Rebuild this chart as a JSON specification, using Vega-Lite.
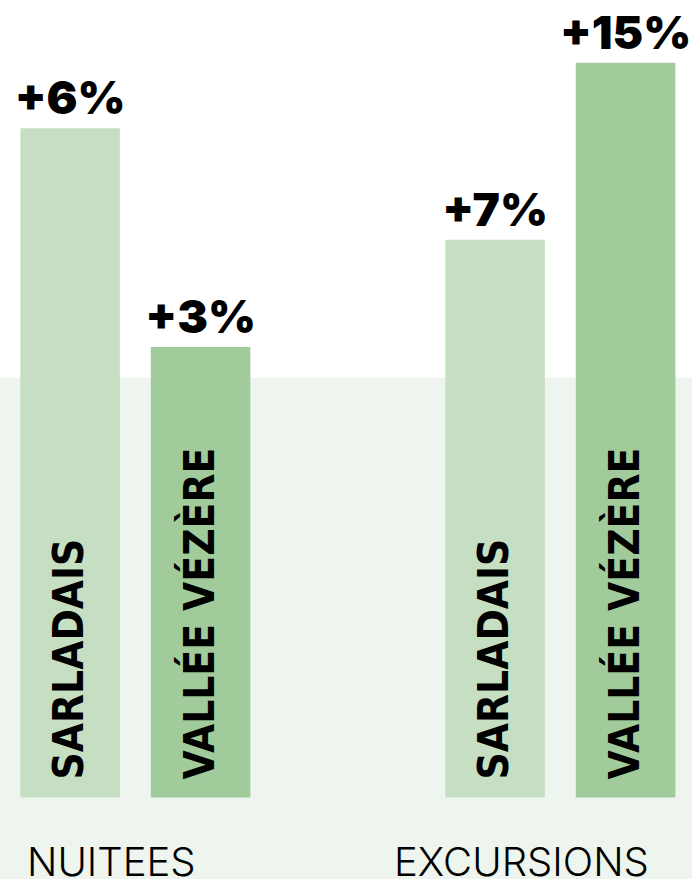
{
  "$schema": "https://vega.github.io/schema/vega-lite/v6.json",
  "width": 692,
  "height": 884,
  "autosize": {"type": "fit", "contains": "padding"},
  "padding": 0,
  "background": "#ffffff",
  "config": {"view": {"stroke": null}},
  "datasets": {
    "barres": [
      {"indicateur": "NUITEES", "zone": "SARLADAIS", "variation": "+6%", "hauteur": 673},
      {"indicateur": "NUITEES", "zone": "VALLÉE VÉZÈRE", "variation": "+3%", "hauteur": 453},
      {"indicateur": "EXCURSIONS", "zone": "SARLADAIS", "variation": "+7%", "hauteur": 561},
      {"indicateur": "EXCURSIONS", "zone": "VALLÉE VÉZÈRE", "variation": "+15%", "hauteur": 739}
    ],
    "fond": [{"bas": -82, "haut": 422}]
  },
  "encoding": {
    "x": {
      "field": "indicateur", "type": "nominal", "sort": ["NUITEES", "EXCURSIONS"],
      "scale": {"type": "band", "paddingInner": 0.4588, "paddingOuter": 0.0435, "align": 0.55},
      "axis": null
    }
  },
  "layer": [
    {
      "data": {"name": "fond"},
      "mark": {"type": "rect", "color": "#eef4ee"},
      "encoding": {
        "x": null,
        "y": {"field": "bas", "type": "quantitative", "scale": {"domain": [-82, 802], "nice": false, "zero": false}, "axis": null},
        "y2": {"field": "haut"}
      }
    },
    {
      "data": {"name": "barres"},
      "mark": {"type": "bar"},
      "encoding": {
        "xOffset": {"field": "zone", "type": "nominal", "sort": ["SARLADAIS", "VALLÉE VÉZÈRE"], "scale": {"type": "band", "paddingInner": 0.237, "paddingOuter": 0}},
        "y": {"field": "hauteur", "type": "quantitative", "scale": {"domain": [-82, 802], "nice": false, "zero": false}, "axis": null},
        "y2": {"datum": 0},
        "color": {"field": "zone", "type": "nominal", "scale": {"domain": ["SARLADAIS", "VALLÉE VÉZÈRE"], "range": ["#c6dfc3", "#a2cb9b"]}, "legend": null}
      }
    },
    {
      "data": {"name": "barres"},
      "mark": {"type": "text", "font": "Inter", "fontWeight": 900, "fontSize": 46, "baseline": "alphabetic", "align": "center", "dy": -14, "color": "#000000"},
      "encoding": {
        "xOffset": {"field": "zone", "type": "nominal", "sort": ["SARLADAIS", "VALLÉE VÉZÈRE"], "scale": {"type": "band", "paddingInner": 0.237, "paddingOuter": 0}},
        "y": {"field": "hauteur", "type": "quantitative", "scale": {"domain": [-82, 802], "nice": false, "zero": false}, "axis": null},
        "text": {"field": "variation"}
      }
    },
    {
      "data": {"name": "barres"},
      "mark": {"type": "text", "font": "DejaVu Sans Condensed", "fontWeight": "bold", "fontSize": 42, "angle": 270, "baseline": "middle", "align": "left", "dx": 18, "color": "#000000"},
      "encoding": {
        "xOffset": {"field": "zone", "type": "nominal", "sort": ["SARLADAIS", "VALLÉE VÉZÈRE"], "scale": {"type": "band", "paddingInner": 0.237, "paddingOuter": 0}},
        "y": {"datum": 0, "type": "quantitative", "scale": {"domain": [-82, 802], "nice": false, "zero": false}, "axis": null},
        "text": {"field": "zone"}
      }
    },
    {
      "data": {"name": "barres"},
      "transform": [{"filter": "datum.indicateur === 'NUITEES' && datum.zone === 'SARLADAIS'"}],
      "mark": {"type": "text", "font": "Inter", "fontWeight": 300, "fontSize": 40, "baseline": "middle", "align": "center", "dx": -24, "color": "#000000"},
      "encoding": {
        "y": {"datum": -67, "type": "quantitative", "scale": {"domain": [-82, 802], "nice": false, "zero": false}, "axis": null},
        "text": {"field": "indicateur"}
      }
    },
    {
      "data": {"name": "barres"},
      "transform": [{"filter": "datum.indicateur === 'EXCURSIONS' && datum.zone === 'SARLADAIS'"}],
      "mark": {"type": "text", "font": "Inter", "fontWeight": 300, "fontSize": 40, "baseline": "middle", "align": "center", "dx": -39, "color": "#000000"},
      "encoding": {
        "y": {"datum": -67, "type": "quantitative", "scale": {"domain": [-82, 802], "nice": false, "zero": false}, "axis": null},
        "text": {"field": "indicateur"}
      }
    }
  ]
}
